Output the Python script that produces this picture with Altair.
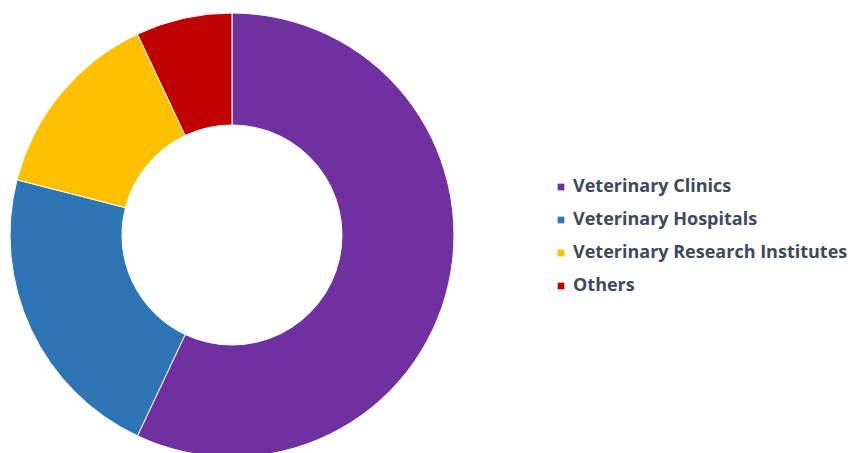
import altair as alt
import pandas as pd

categories = ["Veterinary Clinics", "Veterinary Hospitals", "Veterinary Research Institutes", "Others"]
shares = [57, 22, 14, 7]
colors = ["#7030A0", "#2E75B6", "#FFC000", "#C00000"]

df = pd.DataFrame({"segment": categories, "share": shares, "order": list(range(len(categories)))})

chart = alt.Chart(df).mark_arc(
    innerRadius=110, outerRadius=222, stroke="white", strokeWidth=1
).encode(
    theta=alt.Theta("share:Q", stack=True),
    order=alt.Order("order:Q"),
    color=alt.Color(
        "segment:N",
        sort=categories,
        scale=alt.Scale(domain=categories, range=colors),
        legend=alt.Legend(
            title=None,
            orient="none",
            legendX=552,
            legendY=178,
            symbolType="square",
            symbolSize=45,
            symbolStrokeWidth=0,
            labelFontSize=18,
            labelFont="Open Sans",
            labelFontWeight="bold",
            labelColor="#3B4A5C",
            rowPadding=15,
            labelOffset=3,
            labelLimit=400,
        ),
    ),
    x=alt.value(232),
    y=alt.value(235),
).properties(
    width=854, height=453, padding=0, autosize=alt.AutoSizeParams(type="none")
).configure_view(stroke=None)

chart.save("out.html", embed_options={"renderer": "svg", "actions": False})
